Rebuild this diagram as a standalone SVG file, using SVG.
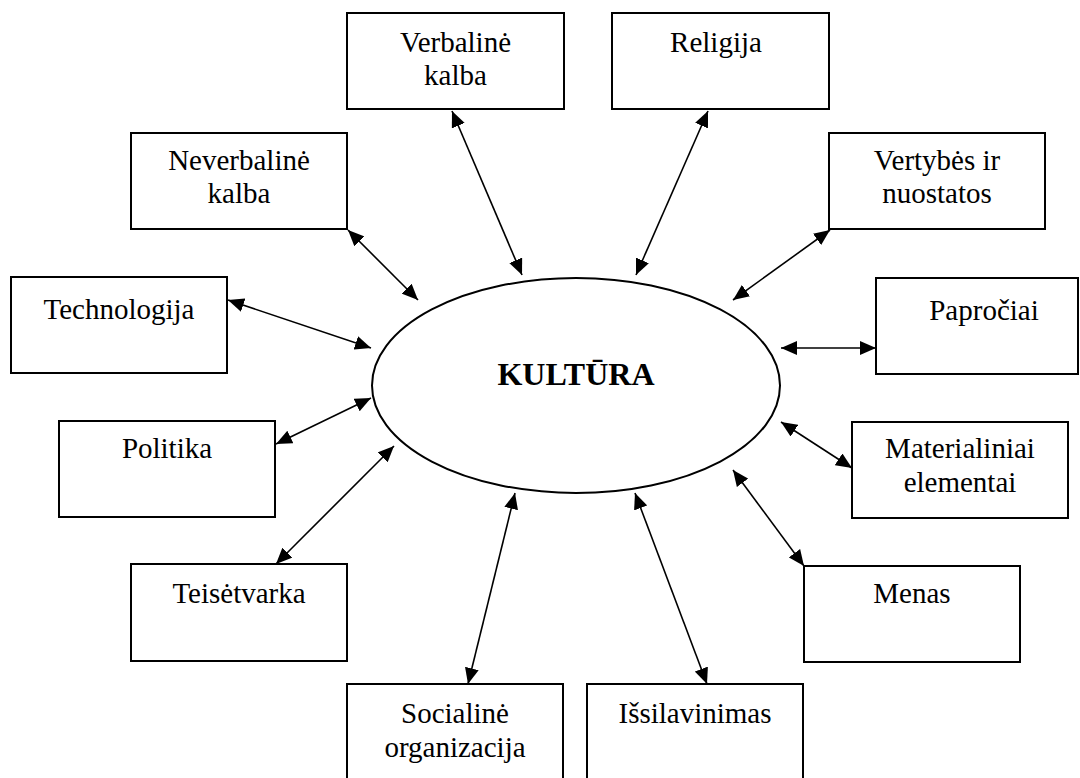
<svg xmlns="http://www.w3.org/2000/svg" width="1080" height="778" viewBox="0 0 1080 778">
<style>
.box{fill:#fff;stroke:#000;stroke-width:2}
.lbl{font-family:"Liberation Serif","Times New Roman",serif;font-size:29px;fill:#000;text-anchor:middle}
.title{font-family:"Liberation Serif","Times New Roman",serif;font-size:32px;font-weight:bold;fill:#000;text-anchor:middle}
.con{stroke:#000;stroke-width:1.6;fill:none;marker-start:url(#ah);marker-end:url(#ah)}
</style>
<defs>
<marker id="ah" viewBox="0 0 16 14" refX="16" refY="7" markerWidth="16" markerHeight="14" markerUnits="userSpaceOnUse" orient="auto-start-reverse">
<path d="M0,0 L16,7 L0,14 z" fill="#000"/>
</marker>
</defs>
<rect width="1080" height="778" fill="#fff"/>
<g id="connectors">
<line class="con" x1="452" y1="111" x2="522" y2="275"/>
<line class="con" x1="708" y1="111" x2="636" y2="275"/>
<line class="con" x1="348" y1="230" x2="418" y2="300"/>
<line class="con" x1="830" y1="230" x2="733" y2="300"/>
<line class="con" x1="228" y1="300" x2="371" y2="348"/>
<line class="con" x1="781" y1="348" x2="876" y2="348"/>
<line class="con" x1="276" y1="444" x2="371" y2="398"/>
<line class="con" x1="781" y1="422" x2="852" y2="468"/>
<line class="con" x1="276" y1="564" x2="394" y2="446"/>
<line class="con" x1="804" y1="566" x2="733" y2="470"/>
<line class="con" x1="468" y1="684" x2="515" y2="493"/>
<line class="con" x1="707" y1="684" x2="635" y2="493"/>
</g>
<g id="kultura">
<ellipse cx="576" cy="385.5" rx="204" ry="107.5" fill="#fff" stroke="#000" stroke-width="2"/>
<text class="title" x="576" y="385">KULTŪRA</text>
</g>
<g id="verbaline">
<rect class="box" x="347" y="13" width="217" height="96"/>
<text class="lbl" x="455.5" y="52">Verbalinė</text>
<text class="lbl" x="455.5" y="85">kalba</text>
</g>
<g id="religija">
<rect class="box" x="612" y="13" width="217" height="96"/>
<text class="lbl" x="716" y="52">Religija</text>
</g>
<g id="neverbaline">
<rect class="box" x="131" y="133" width="216" height="96"/>
<text class="lbl" x="239" y="170">Neverbalinė</text>
<text class="lbl" x="239" y="203">kalba</text>
</g>
<g id="vertybes">
<rect class="box" x="829" y="133" width="216" height="96"/>
<text class="lbl" x="937" y="170">Vertybės ir</text>
<text class="lbl" x="937" y="203">nuostatos</text>
</g>
<g id="technologija">
<rect class="box" x="11" y="277" width="216" height="96"/>
<text class="lbl" x="119" y="319">Technologija</text>
</g>
<g id="paprociai">
<rect class="box" x="876" y="278" width="202" height="96"/>
<text class="lbl" x="984" y="320">Papročiai</text>
</g>
<g id="politika">
<rect class="box" x="59" y="421" width="216" height="96"/>
<text class="lbl" x="167" y="458">Politika</text>
</g>
<g id="materialiniai">
<rect class="box" x="852" y="422" width="216" height="96"/>
<text class="lbl" x="960" y="458">Materialiniai</text>
<text class="lbl" x="960" y="492">elementai</text>
</g>
<g id="teisetvarka">
<rect class="box" x="131" y="564" width="216" height="97"/>
<text class="lbl" x="239" y="603">Teisėtvarka</text>
</g>
<g id="menas">
<rect class="box" x="804" y="566" width="216" height="96"/>
<text class="lbl" x="912" y="603">Menas</text>
</g>
<g id="socialine">
<rect class="box" x="347" y="684" width="216" height="100"/>
<text class="lbl" x="455" y="723">Socialinė</text>
<text class="lbl" x="455" y="757">organizacija</text>
</g>
<g id="issilavinimas">
<rect class="box" x="587" y="684" width="216" height="100"/>
<text class="lbl" x="695" y="723">Išsilavinimas</text>
</g>
</svg>
